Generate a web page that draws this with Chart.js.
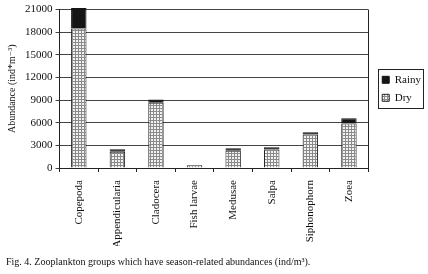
<!DOCTYPE html>
<html><head><meta charset="utf-8">
<script src="https://cdn.jsdelivr.net/npm/chart.js@4"></script>
<style>html,body{margin:0;padding:0;background:#fff}#wrap{width:428px;height:274px}</style>
</head><body><div id="wrap"><canvas id="c" width="428" height="274"></canvas></div>
<script>
const categories = ["Copepoda","Appendicularia","Cladocera","Fish larvae","Medusae","Salpa","Siphonophorn","Zoea"];
const dryValues = [18500, 2150, 8650, 350, 2300, 2450, 4450, 5900];
const rainyValues = [2700, 350, 420, 30, 330, 300, 300, 700];
const yTicks = [0, 3000, 6000, 9000, 12000, 15000, 18000, 21000];

function makePattern(){
  const p = document.createElement('canvas'); p.width = 3; p.height = 3;
  const g = p.getContext('2d');
  g.fillStyle = '#f2f2f2'; g.fillRect(0,0,3,3);
  g.fillStyle = '#8a8a8a'; g.fillRect(0,0,3,1); g.fillRect(0,0,1,3);
  return document.getElementById('c').getContext('2d').createPattern(p,'repeat');
}
const serif = "'Liberation Serif', 'DejaVu Serif', serif";
const LEGEND_SHIFT = 7;
const frame = {
  id:'frame',
  afterLayout(chart){
    const lg = chart.legend;
    if (lg && !lg._shifted){
      lg.left += LEGEND_SHIFT; lg.right += LEGEND_SHIFT;
      lg._shifted = true;
    }
  },
  afterDraw(chart){
    const ctx = chart.ctx, a = chart.chartArea;
    ctx.save(); ctx.strokeStyle = '#222'; ctx.lineWidth = 1;
    ctx.beginPath(); ctx.moveTo(Math.round(a.right)+0.5, a.top); ctx.lineTo(Math.round(a.right)+0.5, a.bottom); ctx.stroke();
    const hb = chart.legend.legendHitBoxes;
    if (hb && hb.length){
      let l=1e9,t=1e9,r=-1e9,b=-1e9;
      hb.forEach(h=>{l=Math.min(l,h.left);t=Math.min(t,h.top);r=Math.max(r,h.left+h.width);b=Math.max(b,h.top+h.height);});
      ctx.strokeRect(Math.round(l-4)+0.5, Math.round(t-5)+0.5, Math.round(r-l+6), Math.round(b-t+10));
    }
    ctx.restore();
  }
};
new Chart(document.getElementById('c'), {
  type:'bar',
  data:{ labels: categories, datasets:[
    {label:'Dry', data: dryValues, backgroundColor: makePattern(), borderColor:'#222', borderWidth:1, barPercentage:0.4, categoryPercentage:1, clip:12},
    {label:'Rainy', data: rainyValues, backgroundColor:'#151515', borderColor:'#151515', borderWidth:1, barPercentage:0.4, categoryPercentage:1, clip:12}
  ]},
  options:{
    responsive:false, animation:false, devicePixelRatio:1,
    layout:{padding:{top:4,left:6,right:4,bottom:2}},
    plugins:{
      legend:{position:'right', fullSize:false, reverse:true, labels:{boxWidth:7, boxHeight:7, padding:7, color:'#111', font:{family:serif, size:11}}},
      title:{display:true, position:'bottom', align:'start', text:'Fig. 4. Zooplankton groups which have season-related abundances (ind/m³).', color:'#111', font:{family:serif, size:10, weight:'normal'}, padding:{top:10,bottom:4}},
      tooltip:{enabled:false}
    },
    scales:{
      x:{stacked:true, grid:{drawOnChartArea:false, color:'#222', tickLength:4, offset:true}, border:{color:'#222'},
         afterFit(s){ s.height = 78; },
         ticks:{minRotation:90, maxRotation:90, color:'#111', font:{family:serif, size:11}, padding:8}},
      y:{stacked:true, min:0, max:21000, afterBuildTicks(s){ s.ticks = yTicks.map(v=>({value:v})); },
         grid:{color:'#444', tickLength:4}, border:{color:'#222'},
         ticks:{color:'#111', font:{family:serif, size:11}, padding:3, callback:(v)=>String(v)},
         title:{display:true, text:'Abundance (ind*m⁻³)', color:'#111', font:{family:serif, size:10}, padding:{top:0,bottom:4}}}
    }
  },
  plugins:[frame]
});
</script></body></html>
